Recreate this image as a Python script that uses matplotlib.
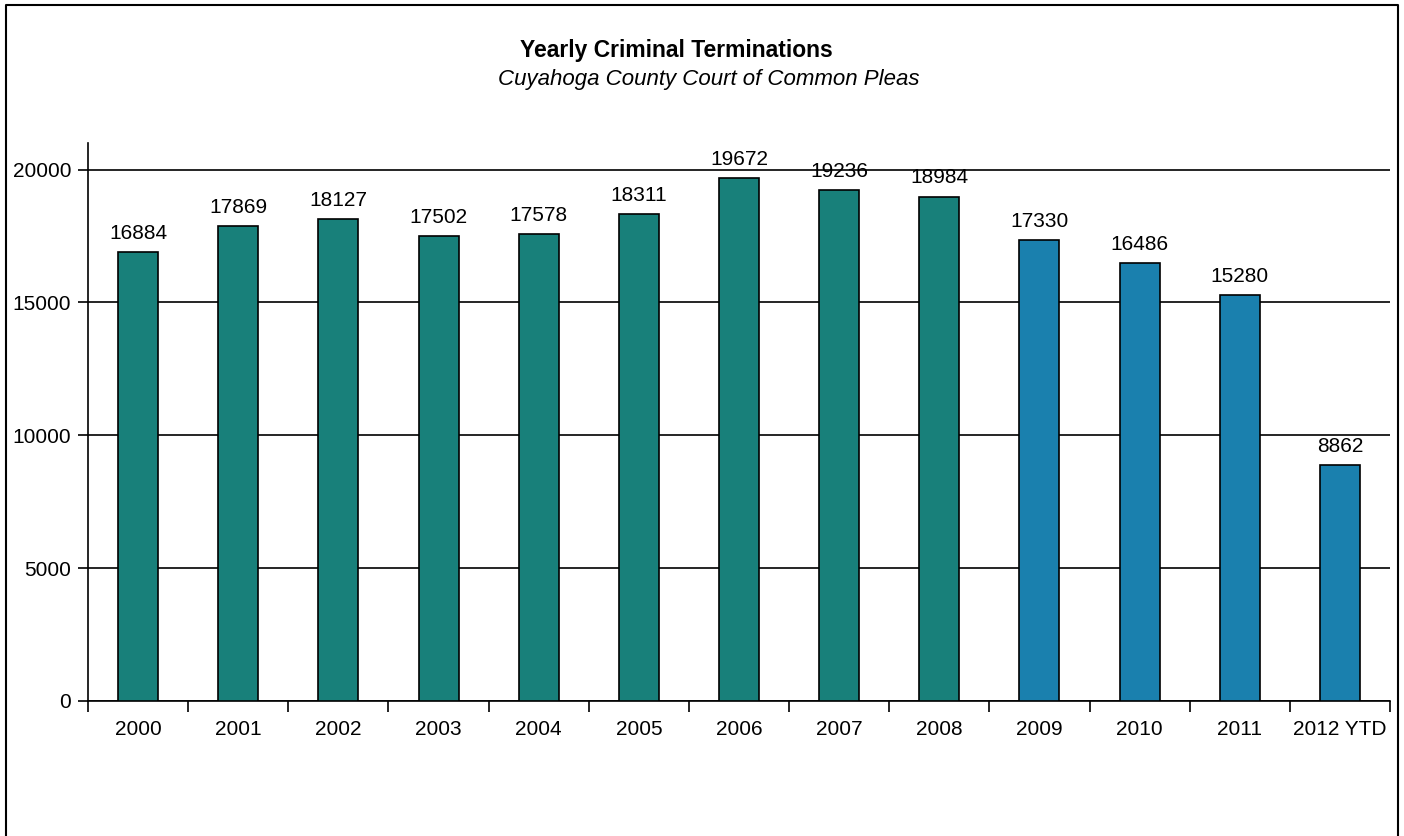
import matplotlib
matplotlib.use('Agg')
import matplotlib.pyplot as plt
import numpy as np

# data
years = ['2000', '2001', '2002', '2003', '2004', '2005', '2006',
         '2007', '2008', '2009', '2010', '2011', '2012 YTD']
terminations = [16884, 17869, 18127, 17502, 17578, 18311, 19672,
                19236, 18984, 17330, 16486, 15280, 8862]
bar_colors = ['#18807a'] * 9 + ['#1a80ae'] * 4

plt.rcParams['font.family'] = ['Liberation Sans', 'DejaVu Sans']

fig = plt.figure(figsize=(14.04, 8.36), dpi=100)
ax = fig.add_axes([0.0627, 0.1615, 0.9273, 0.6675])

x = np.arange(len(years))
ax.bar(x, terminations, width=0.4, color=bar_colors,
       edgecolor='black', linewidth=1.2, zorder=3)

for xi, v in zip(x, terminations):
    ax.text(xi, v + 350, str(v), ha='center', va='bottom', fontsize=15, zorder=4)

ax.set_xlim(-0.5, len(years) - 0.5)
ax.set_ylim(0, 21000)
ax.set_yticks(np.arange(0, 20001, 5000))
ax.yaxis.grid(True, color='black', linewidth=1.2, zorder=0)
ax.set_xticks(x)
ax.set_xticklabels(years)
ax.set_xticks(np.arange(-0.5, len(years), 1), minor=True)
ax.tick_params(axis='x', which='major', length=0, labelsize=15, pad=14)
ax.tick_params(axis='x', which='minor', length=8, width=1.2, direction='out')
ax.tick_params(axis='y', length=7, width=1.2, labelsize=15, pad=5)

for side in ['top', 'right']:
    ax.spines[side].set_visible(False)
ax.spines['left'].set_linewidth(1.2)
ax.spines['bottom'].set_linewidth(1.2)

fig.text(0.4815, 0.939, 'Yearly Criminal Terminations', ha='center', va='center',
         fontsize=16.5, fontweight='bold')
fig.text(0.505, 0.905, 'Cuyahoga County Court of Common Pleas', ha='center',
         va='center', fontsize=16, style='italic')

# page border (left, top, right)
fig.add_artist(plt.Line2D([0.004, 0.004, 0.996, 0.996], [0.0, 0.994, 0.994, 0.0],
                          color='black', linewidth=1.5, transform=fig.transFigure))

fig.savefig('out.png', dpi=100)
